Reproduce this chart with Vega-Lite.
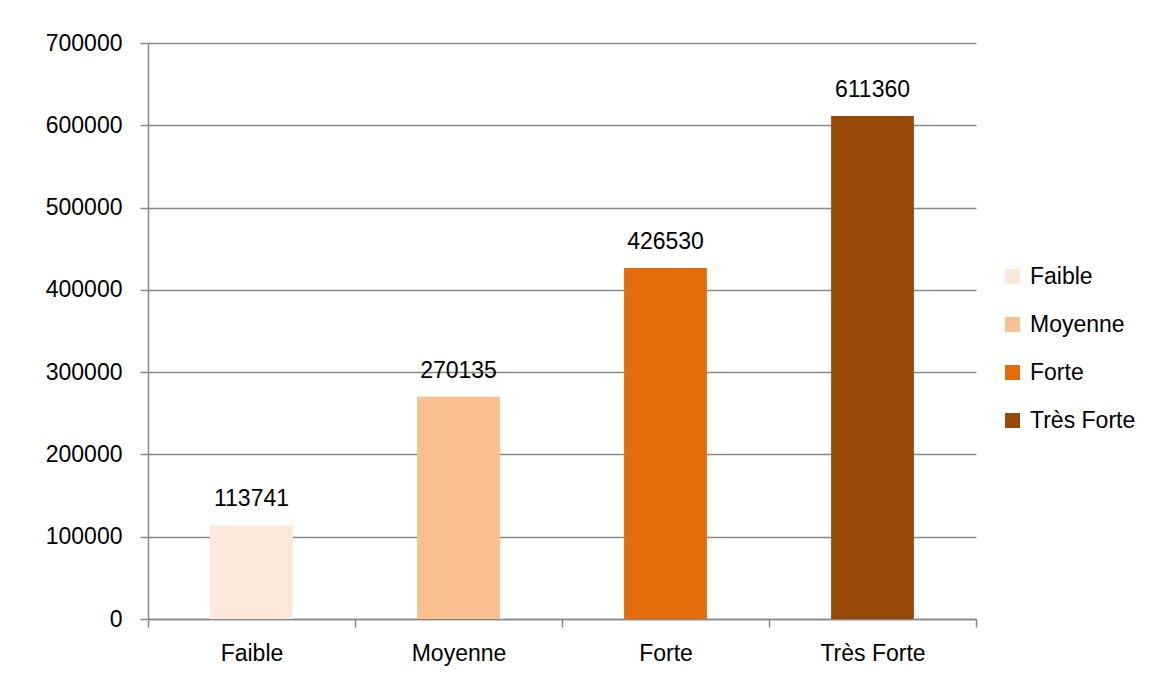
{
  "$schema": "https://vega.github.io/schema/vega-lite/v6.json",
  "width": 828,
  "height": 576,
  "autosize": {"type": "none"},
  "padding": {"left": 148, "top": 43, "right": 173, "bottom": 59},
  "background": "white",
  "config": {
    "view": {"stroke": null},
    "font": "Liberation Sans"
  },
  "data": {
    "values": [
      {"categorie": "Faible", "valeur": 113741},
      {"categorie": "Moyenne", "valeur": 270135},
      {"categorie": "Forte", "valeur": 426530},
      {"categorie": "Très Forte", "valeur": 611360}
    ]
  },
  "encoding": {
    "x": {
      "field": "categorie",
      "type": "nominal",
      "sort": ["Faible", "Moyenne", "Forte", "Très Forte"],
      "scale": {"paddingInner": 0, "paddingOuter": 0},
      "axis": {
        "title": null,
        "labelAngle": 0,
        "labelFont": "Liberation Sans",
        "labelFontSize": 23,
        "labelColor": "#000000",
        "labelPadding": 15,
        "tickBand": "extent",
        "tickSize": 8,
        "tickColor": "#888888",
        "tickWidth": 1.5,
        "domainColor": "#888888",
        "domainWidth": 1.5
      }
    },
    "y": {
      "field": "valeur",
      "type": "quantitative",
      "scale": {"domain": [0, 700000], "nice": false},
      "axis": {
        "title": null,
        "values": [0, 100000, 200000, 300000, 400000, 500000, 600000, 700000],
        "format": "d",
        "labelFont": "Liberation Sans",
        "labelFontSize": 23,
        "labelColor": "#000000",
        "labelPadding": 18,
        "tickSize": 8,
        "tickColor": "#888888",
        "tickWidth": 1.5,
        "domainColor": "#888888",
        "domainWidth": 1.5,
        "grid": true,
        "gridColor": "#888888",
        "gridWidth": 1.5
      }
    }
  },
  "layer": [
    {
      "mark": {"type": "bar", "width": {"band": 0.4}},
      "encoding": {
        "color": {
          "field": "categorie",
          "type": "nominal",
          "sort": ["Faible", "Moyenne", "Forte", "Très Forte"],
          "scale": {
            "domain": ["Faible", "Moyenne", "Forte", "Très Forte"],
            "range": ["#FDE9D9", "#FAC090", "#E46C0A", "#984807"]
          },
          "legend": {
            "title": null,
            "orient": "none",
            "legendX": 853,
            "legendY": 222,
            "padding": 0,
            "symbolType": "square",
            "symbolSize": 225,
            "symbolStrokeWidth": 0,
            "labelFont": "Liberation Sans",
            "labelFontSize": 23,
            "labelColor": "#000000",
            "labelOffset": 6,
            "rowPadding": 24
          }
        }
      }
    },
    {
      "mark": {
        "type": "text",
        "baseline": "alphabetic",
        "dy": -19,
        "fontSize": 23,
        "font": "Liberation Sans",
        "color": "#000000"
      },
      "encoding": {
        "text": {"field": "valeur", "type": "quantitative", "format": "d"}
      }
    }
  ]
}
